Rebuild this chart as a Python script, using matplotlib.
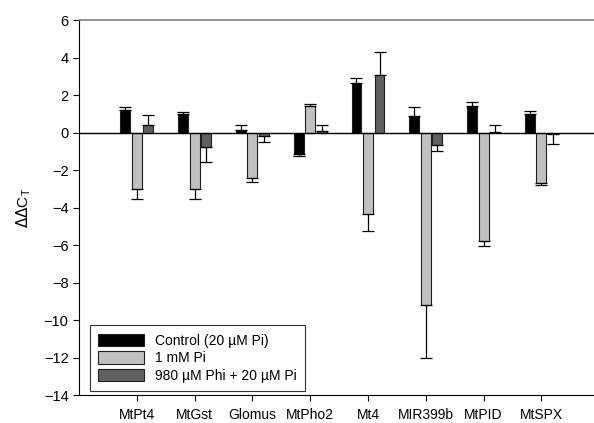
import matplotlib
matplotlib.use("Agg")
import matplotlib.pyplot as plt
import numpy as np

plt.rcParams['font.family'] = ['Liberation Sans', 'DejaVu Sans']

genes = ["MtPt4", "MtGst", "Glomus", "MtPho2", "Mt4", "MIR399b", "MtPID", "MtSPX"]
series_names = ["Control (20 µM Pi)", "1 mM Pi", "980 µM Phi + 20 µM Pi"]

control = [1.22, 1.00, 0.12, -1.15, 2.62, 0.86, 1.43, 0.99]
control_err = [0.16, 0.11, 0.26, 0.10, 0.30, 0.48, 0.18, 0.14]

high_pi = [-3.03, -3.03, -2.41, 1.41, -4.33, -9.22, -5.80, -2.68]
high_pi_err = [0.52, 0.52, 0.21, 0.13, 0.94, 2.81, 0.25, 0.14]

phi = [0.38, -0.77, -0.20, 0.06, 3.05, -0.68, 0.05, -0.06]
phi_err = [0.54, 0.82, 0.31, 0.36, 1.23, 0.29, 0.35, 0.54]

colors = ["#000000", "#c0c0c0", "#606060"]

fig = plt.figure(figsize=(5.94, 4.23), dpi=100)
ax = fig.add_axes([0.133, 0.066, 0.867, 0.8867])

x = np.arange(1, len(genes) + 1)
offset = 0.2
width = 0.17

for i, (vals, errs) in enumerate([(control, control_err), (high_pi, high_pi_err), (phi, phi_err)]):
    vals = np.array(vals)
    errs = np.array(errs)
    pos = x + (i - 1) * offset
    ax.bar(pos, vals, width=width, color=colors[i], edgecolor="#202020", linewidth=0.8,
           label=series_names[i], zorder=2)
    lower = np.where(vals < 0, errs, 0)
    upper = np.where(vals >= 0, errs, 0)
    ax.errorbar(pos, vals, yerr=[lower, upper], fmt="none", ecolor="black",
                elinewidth=0.9, capsize=4, capthick=0.9, zorder=3)

ax.axhline(0, color="black", linewidth=1.0, zorder=4)

ax.set_xlim(0, 8.91)
ax.set_ylim(-14, 6)
ax.set_yticks(np.arange(-14, 7, 2))
ax.set_xticks(x)
ax.set_xticklabels(genes)
ax.tick_params(axis="both", direction="out", length=4, labelsize=10.5, width=0.8)
ax.tick_params(axis="x", pad=5, labelsize=10)

ax.spines["right"].set_visible(False)
ax.spines["top"].set_color("#808080")
ax.spines["top"].set_linewidth(1.2)

ax.set_ylabel(r"$\Delta\Delta$C$_\mathregular{T}$", fontsize=11, labelpad=8)

leg = ax.legend(loc="lower left", bbox_to_anchor=(0.021, 0.011), frameon=True, fancybox=False,
                edgecolor="black", fontsize=10, handlelength=3.3, handleheight=1.0,
                borderpad=0.6, labelspacing=0.25, handletextpad=0.8, borderaxespad=0)
leg.get_frame().set_linewidth(0.8)

fig.savefig("out.png", dpi=100)
